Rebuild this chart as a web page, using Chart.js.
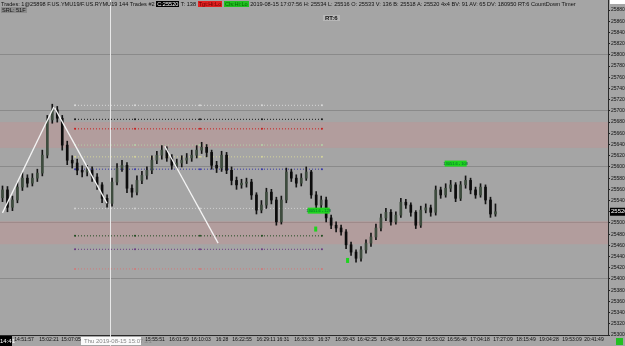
<!DOCTYPE html>
<html>
<head>
<meta charset="utf-8">
<script src="https://cdn.jsdelivr.net/npm/chart.js@4.4.1/dist/chart.umd.min.js"></script>
<style>
  body { margin: 0; background: #a5a5a5; }
  #wrap { position: relative; width: 625px; height: 346px; overflow: hidden; }
  #c { position: absolute; left: 0; top: 0; }
  .hdr { position: absolute; left: 1px; font: 5.6px "Liberation Sans", Arial, sans-serif; color: #111; white-space: nowrap; line-height: 6px; }
  .hdr span { padding: 0 1px; }
  .blk { background: #000; color: #fff; }
  .red { background: #e02020; color: #600; }
  .grn { background: #20c020; color: #060; }
  #rt { position: absolute; left: 323px; top: 15px; font: bold 6px "Liberation Sans", Arial; color: #111; background: #b8b8b8; padding: 0 2px; }
</style>
</head>
<body>
<div id="wrap">
  <canvas id="c" width="625" height="346"></canvas>
  <div class="hdr" style="top:1px">Trades: 1@25898  F.US.YMU19/F.US.RYMU19  144 Trades  #2 <span class="blk">C:25520</span> T: 138 <span class="red">Tgt:Hi:Lo</span> <span class="grn">Cls:Hi:Lo</span> 2019-08-15 17:07:56 H: 25534  L: 25516  O: 25533  V: 136  B: 25518  A: 25520  4x4  BV: 91  AV: 65  DV: 180950  RT:6  CountDown Timer</div>
  <div class="hdr" style="top:7px"><span style="background:#8c8c8c">SRL: 51F</span></div>
  <div id="rt">RT:6</div>
</div>
<script>
// Dados do gráfico
const primeiraAbertura = 25545;
const fechamentos = [25559, 25528, 25541, 25564, 25580, 25571, 25580, 25589, 25621, 25684,
  25702, 25687, 25639, 25612, 25607, 25594, 25591, 25594, 25582, 25568,
  25544, 25535, 25573, 25598, 25603, 25562, 25555, 25576, 25585, 25594,
  25612, 25621, 25630, 25616, 25603, 25607, 25612, 25616, 25621, 25630,
  25635, 25626, 25603, 25598, 25621, 25594, 25576, 25568, 25571, 25573,
  25550, 25523, 25532, 25555, 25541, 25502, 25541, 25591, 25580, 25571,
  25580, 25591, 25550, 25532, 25541, 25509, 25496, 25491, 25484, 25461,
  25448, 25437, 25452, 25464, 25475, 25491, 25509, 25519, 25502, 25514,
  25537, 25532, 25519, 25496, 25523, 25527, 25519, 25559, 25550, 25562,
  25568, 25544, 25568, 25576, 25559, 25550, 25564, 25541, 25516, 25520];
const maximas = [25566, 25565, 25548, 25572, 25590, 25586, 25588, 25596, 25630, 25692,
  25712, 25708, 25692, 25646, 25620, 25614, 25602, 25603, 25600, 25588,
  25572, 25550, 25580, 25606, 25612, 25608, 25568, 25584, 25592, 25600,
  25620, 25628, 25638, 25636, 25622, 25614, 25620, 25624, 25630, 25638,
  25644, 25640, 25630, 25610, 25628, 25626, 25600, 25582, 25578, 25580,
  25578, 25554, 25540, 25562, 25560, 25546, 25548, 25598, 25596, 25586,
  25588, 25600, 25594, 25556, 25548, 25546, 25514, 25502, 25496, 25488,
  25466, 25452, 25458, 25470, 25482, 25498, 25516, 25526, 25524, 25520,
  25544, 25542, 25536, 25522, 25530, 25534, 25532, 25566, 25564, 25570,
  25576, 25572, 25574, 25584, 25580, 25564, 25570, 25568, 25546, 25534];
const minimas = [25538, 25520, 25522, 25536, 25558, 25564, 25566, 25574, 25584, 25616,
  25678, 25680, 25630, 25604, 25598, 25586, 25582, 25584, 25574, 25560,
  25536, 25528, 25530, 25568, 25592, 25554, 25546, 25550, 25570, 25578,
  25588, 25606, 25614, 25610, 25596, 25598, 25600, 25606, 25610, 25616,
  25624, 25618, 25596, 25590, 25592, 25588, 25568, 25560, 25562, 25564,
  25542, 25516, 25518, 25526, 25534, 25496, 25498, 25536, 25574, 25564,
  25566, 25576, 25544, 25526, 25526, 25502, 25490, 25484, 25478, 25454,
  25442, 25430, 25432, 25446, 25458, 25470, 25486, 25504, 25496, 25498,
  25510, 25526, 25512, 25490, 25492, 25518, 25512, 25514, 25544, 25546,
  25556, 25538, 25540, 25562, 25552, 25544, 25546, 25534, 25510, 25512];

// Níveis horizontais pontilhados (preço e cor)
const niveisPreco = [25710, 25685, 25668, 25639, 25618, 25596, 25526, 25477, 25453, 25418];
const niveisCor = ['#d8d8d8', '#1a1a1a', '#c81e1e', '#b4d0a8', '#d4d49a', '#3a3aa8', '#d0d0d0', '#1e4a1e', '#6a3a80', '#d07a7a'];

// Faixas rosadas (topo, base)
const faixas = [[25680, 25634], [25503, 25462]];

// Linhas de tendência brancas [[slot, preço], [slot, preço]]
const tendencias = [
  [[0, 25518], [10.3, 25707]],
  [[10.5, 25705], [21, 25535]],
  [[32.6, 25637], [43.3, 25464]]
];

// Rótulos do eixo de tempo
const rotulosTempo = ['14:51:57', '15:02:21', '15:07:05', '15:55:51', '16:01:59', '16:10:03', '16:28', '16:22:55',
  '16:29:11', '16:31', '16:33:33', '16:37', '16:39:43', '16:42:25', '16:45:46', '16:50:22', '16:53:02',
  '16:56:46', '17:04:18', '17:27:09', '18:15:49', '19:04:28', '19:53:09', '20:41:49'];
const posRotulosPx = [24, 49, 71, 155, 179, 201, 222, 242, 266, 283, 304, 324, 345, 367, 390, 412, 435,
  457, 480, 503, 526, 549, 572, 594];

const ultimoPreco = 25520;
const PX_SLOT = 4.98;
const slotDePx = px => px / PX_SLOT - 0.5;

// Monta os candles
const aberturas = fechamentos.map((c, i) => i === 0 ? primeiraAbertura : fechamentos[i - 1]);
const pavios = fechamentos.map((c, i) => ({ x: i, y: [minimas[i], maximas[i]] }));
const corpos = fechamentos.map((c, i) => ({ x: i, y: [aberturas[i], c] }));
const coresCorpo = fechamentos.map((c, i) => c >= aberturas[i] ? '#3e4c3e' : '#0c0c0c');

const marcasNivel = [75, 135, 200, 262, 322].map(slotDePx);
const datasetsNivel = niveisPreco.map((p, k) => ({
  type: 'line',
  data: marcasNivel.map(s => ({ x: s, y: p })),
  borderColor: niveisCor[k],
  backgroundColor: niveisCor[k],
  borderWidth: 1,
  borderDash: [1, 2],
  pointRadius: 1,
  pointHoverRadius: 1,
  pointBorderWidth: 0,
  order: 5
}));
const datasetsTendencia = tendencias.map(t => ({
  type: 'line',
  data: t.map(p => ({ x: p[0], y: p[1] })),
  borderColor: '#f4f4f4',
  borderWidth: 1.3,
  pointRadius: 0,
  pointHoverRadius: 0,
  order: 0
}));

// Plugin para desenhar faixas, cursor, etiquetas verdes e caixa do último preço
const extras = {
  id: 'extras',
  beforeDatasetsDraw(chart) {
    const { ctx, chartArea, scales: { x, y } } = chart;
    ctx.save();
    ctx.fillStyle = 'rgba(205,140,140,0.32)';
    faixas.forEach(f => {
      const t = y.getPixelForValue(f[0]);
      const b = y.getPixelForValue(f[1]);
      ctx.fillRect(chartArea.left, t, chartArea.right - chartArea.left, b - t);
    });
    // cursor vertical
    const cx = Math.round(x.getPixelForValue(slotDePx(110))) + 0.5;
    ctx.strokeStyle = '#e8e8e8';
    ctx.lineWidth = 1;
    ctx.beginPath();
    ctx.moveTo(cx, 0);
    ctx.lineTo(cx, chartArea.bottom + 11);
    ctx.stroke();
    ctx.restore();
  },
  afterDatasetsDraw(chart) {
    const { ctx, chartArea, scales: { x, y } } = chart;
    ctx.save();
    ctx.font = '4px "Liberation Sans", Arial';
    ctx.textBaseline = 'middle';
    ctx.textAlign = 'center';
    const etiquetas = [[63.5, 25522, '13051.6 - 128'], [91, 25606, '13051.6 - 108']];
    etiquetas.forEach(e => {
      const px = x.getPixelForValue(e[0]);
      const py = y.getPixelForValue(e[1]);
      ctx.fillStyle = '#1ed41e';
      ctx.fillRect(px - 11, py - 3, 22, 6);
      ctx.fillStyle = '#063';
      ctx.fillText(e[2], px, py);
    });
    [[62.8, 25490], [69.2, 25434]].forEach(m => {
      const px = x.getPixelForValue(m[0]);
      const py = y.getPixelForValue(m[1]);
      ctx.fillStyle = '#1ed41e';
      ctx.fillRect(px - 1, py - 2, 3, 5);
    });
    // caixa do último preço
    const py = y.getPixelForValue(ultimoPreco);
    ctx.fillStyle = '#000';
    ctx.fillRect(chartArea.right + 2, py - 4, 15, 8);
    ctx.fillStyle = '#fff';
    ctx.font = '6px "Liberation Sans", Arial';
    ctx.textAlign = 'left';
    ctx.fillText(String(ultimoPreco), chartArea.right + 3, py);
    // rótulos especiais do eixo x
    const by = chartArea.bottom;
    ctx.fillStyle = '#000';
    ctx.fillRect(0, by + 1, 12, 10);
    ctx.fillStyle = '#fff';
    ctx.fillText('14:41', 0, by + 6);
    ctx.fillStyle = '#fafafa';
    ctx.fillRect(81, by + 2, 60, 8);
    ctx.fillStyle = '#888';
    ctx.fillText('Thu 2019-08-15 15:07:21', 84, by + 6);
    ctx.fillStyle = '#22c022';
    ctx.fillRect(616, by + 3, 7, 7);
    ctx.fillStyle = '#fff';
    ctx.fillRect(610, 0, 15, 4);
    ctx.restore();
  }
};

new Chart(document.getElementById('c'), {
  type: 'bar',
  data: {
    datasets: [
      ...datasetsTendencia,
      { type: 'bar', data: pavios, backgroundColor: '#141414', barThickness: 1, grouped: false, order: 2 },
      { type: 'bar', data: corpos, backgroundColor: coresCorpo, barThickness: 2, grouped: false, order: 1 },
      ...datasetsNivel
    ]
  },
  options: {
    responsive: false,
    animation: false,
    devicePixelRatio: 1,
    layout: { autoPadding: false, padding: 0 },
    plugins: { legend: { display: false }, tooltip: { enabled: false } },
    scales: {
      x: {
        type: 'linear',
        offset: false,
        min: -0.5,
        max: 121.6,
        afterFit: s => { s.height = 11; s.paddingLeft = 0; s.paddingRight = 0; },
        afterBuildTicks: s => { s.ticks = posRotulosPx.map(p => ({ value: slotDePx(p) })); },
        ticks: {
          autoSkip: false,
          maxRotation: 0,
          padding: 2,
          color: '#111',
          font: { size: 5, family: 'Liberation Sans' },
          callback: (v, i) => rotulosTempo[i]
        },
        grid: { drawOnChartArea: false, tickLength: 0, offset: false },
        border: { color: '#2a2a2a' }
      },
      y: {
        position: 'right',
        min: 25300,
        max: 25898,
        afterFit: s => { s.width = 17; s.paddingTop = 0; s.paddingBottom = 0; },
        ticks: {
          stepSize: 20,
          includeBounds: false,
          padding: 1,
          color: '#111',
          font: { size: 5, family: 'Liberation Sans' },
          callback: v => String(v)
        },
        grid: {
          color: ctx => (ctx.tick && ctx.tick.value % 100 === 0) ? '#8a8a8a' : 'rgba(0,0,0,0)',
          tickColor: '#222',
          tickLength: 2
        },
        border: { color: '#2a2a2a' }
      }
    }
  },
  plugins: [extras]
});
</script>
</body>
</html>
